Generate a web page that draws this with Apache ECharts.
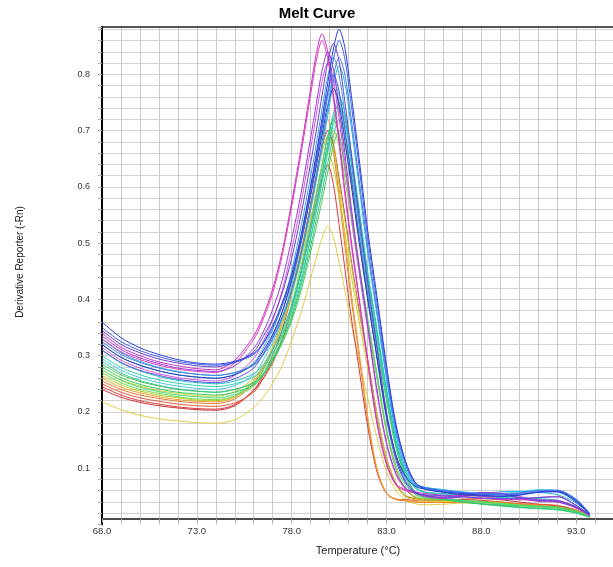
<!DOCTYPE html>
<html>
<head>
<meta charset="utf-8">
<script src="https://cdn.jsdelivr.net/npm/echarts@6/dist/echarts.min.js"></script>
<style>
html,body{margin:0;padding:0;background:#fff;}
#chart{width:613px;height:567px;}
</style>
</head>
<body>
<div id="chart"></div>
<script>
// Temperatures (°C) shared by all wells
const temps = [68,69,70,71,72,73,74,75,76,76.5,77,77.5,78,78.5,79,79.3,79.6,79.9,80.2,80.5,80.8,81.1,81.5,82,82.5,83,83.5,84,84.5,85,86,87,88,89,90,91,92,93,93.7];

// Derivative reporter values per well
const wellPaleYellow = [.218,.204,.194,.188,.184,.181,.180,.186,.208,.226,.251,.283,.327,.378,.437,.474,.509,.530,.510,.466,.417,.363,.300,.226,.153,.094,.060,.043,.037,.035,.036,.038,.037,.034,.031,.029,.027,.021,.014];
const wellCrimson = [.240,.226,.217,.211,.207,.204,.203,.211,.239,.265,.300,.346,.409,.482,.567,.620,.671,.700,.674,.615,.550,.478,.393,.295,.196,.118,.072,.051,.046,.044,.044,.045,.046,.044,.040,.036,.033,.025,.015];
const wellRed = [.245,.230,.220,.214,.209,.206,.205,.213,.238,.260,.291,.331,.386,.450,.524,.570,.614,.640,.604,.533,.456,.378,.289,.176,.093,.055,.045,.044,.043,.042,.043,.044,.043,.040,.036,.033,.031,.024,.015];
const wellRedOrange = [.250,.235,.225,.219,.214,.211,.210,.216,.235,.259,.287,.327,.382,.452,.532,.584,.638,.690,.720,.693,.633,.565,.471,.364,.263,.166,.098,.063,.048,.045,.043,.042,.041,.039,.037,.036,.034,.026,.016];
const wellDarkOrange = [.255,.240,.230,.224,.219,.216,.215,.223,.251,.276,.310,.354,.416,.488,.570,.622,.671,.700,.661,.582,.497,.411,.313,.188,.096,.055,.044,.042,.040,.039,.039,.040,.041,.040,.037,.034,.031,.024,.015];
const wellOrange = [.260,.244,.234,.227,.222,.219,.218,.226,.255,.281,.316,.362,.426,.500,.586,.639,.690,.720,.680,.599,.511,.423,.322,.194,.099,.056,.045,.043,.041,.040,.040,.041,.040,.038,.035,.033,.031,.024,.015];
const wellYellow = [.275,.257,.246,.238,.233,.229,.228,.236,.260,.283,.313,.353,.408,.471,.545,.591,.635,.660,.635,.580,.519,.451,.371,.279,.186,.113,.070,.049,.044,.042,.041,.041,.039,.036,.034,.032,.030,.023,.015];
const wellYellowGreen = [.265,.248,.237,.230,.225,.221,.220,.228,.255,.279,.312,.355,.415,.484,.564,.614,.662,.690,.664,.607,.542,.472,.388,.292,.196,.119,.074,.052,.047,.044,.043,.042,.040,.037,.034,.032,.030,.024,.015];
const wellLime = [.270,.252,.240,.233,.227,.223,.222,.228,.246,.268,.295,.332,.384,.449,.524,.572,.623,.672,.700,.674,.616,.551,.460,.356,.258,.164,.099,.064,.050,.046,.044,.043,.041,.038,.035,.033,.031,.024,.015];
const wellGreen2 = [.285,.266,.254,.246,.240,.237,.235,.240,.252,.267,.291,.322,.362,.416,.484,.529,.576,.626,.673,.700,.674,.616,.528,.415,.318,.220,.136,.084,.054,.048,.044,.040,.037,.035,.033,.032,.031,.023,.014];
const wellSpringGreen = [.275,.256,.244,.236,.230,.227,.225,.231,.249,.273,.300,.339,.392,.460,.537,.588,.640,.691,.720,.693,.634,.567,.474,.368,.268,.171,.105,.070,.055,.051,.047,.043,.040,.037,.034,.031,.029,.022,.014];
const wellGreen = [.280,.261,.249,.241,.235,.232,.230,.235,.248,.265,.291,.327,.371,.432,.508,.558,.611,.666,.719,.750,.722,.660,.566,.444,.340,.236,.145,.090,.057,.049,.045,.040,.036,.033,.030,.028,.026,.020,.013];
const wellSeaGreen = [.290,.269,.256,.247,.241,.237,.235,.240,.252,.268,.293,.326,.367,.424,.495,.542,.591,.642,.691,.720,.693,.634,.544,.427,.328,.228,.141,.088,.058,.050,.046,.041,.037,.034,.031,.029,.027,.021,.013];
const wellTurquoise = [.300,.279,.266,.257,.251,.247,.245,.250,.262,.278,.304,.337,.379,.438,.510,.558,.608,.661,.711,.740,.713,.651,.559,.440,.338,.235,.147,.092,.065,.057,.054,.053,.052,.050,.048,.045,.041,.030,.016];
const wellTeal = [.310,.287,.273,.263,.256,.252,.250,.255,.268,.284,.310,.345,.388,.448,.523,.572,.624,.678,.730,.760,.732,.669,.575,.452,.347,.242,.151,.095,.067,.058,.055,.052,.050,.048,.047,.046,.043,.032,.016];
const wellAqua = [.295,.274,.261,.252,.246,.242,.240,.247,.266,.292,.323,.365,.425,.501,.587,.643,.701,.758,.790,.761,.696,.624,.523,.407,.299,.194,.122,.084,.070,.065,.060,.056,.054,.055,.058,.062,.060,.043,.019];
const wellSky = [.320,.297,.283,.273,.266,.262,.260,.267,.287,.314,.346,.389,.451,.530,.619,.677,.738,.796,.830,.799,.731,.654,.547,.425,.310,.199,.122,.082,.070,.066,.059,.055,.053,.053,.056,.060,.058,.041,.019];
const wellCyan = [.330,.305,.290,.279,.272,.267,.265,.270,.283,.301,.329,.366,.413,.478,.558,.612,.668,.727,.783,.815,.785,.717,.615,.484,.371,.258,.160,.100,.070,.066,.062,.058,.056,.058,.059,.057,.053,.038,.018];
const wellMagenta2 = [.315,.292,.278,.268,.261,.257,.255,.265,.295,.325,.364,.416,.488,.572,.668,.729,.787,.820,.790,.721,.645,.561,.462,.348,.233,.142,.088,.063,.056,.050,.046,.049,.055,.056,.050,.044,.043,.031,.017];
const wellPink = [.330,.307,.293,.283,.276,.272,.270,.287,.329,.365,.412,.478,.565,.660,.764,.825,.860,.828,.756,.676,.587,.507,.411,.291,.178,.106,.070,.060,.056,.052,.050,.052,.050,.046,.045,.048,.050,.034,.017];
const wellMagenta = [.340,.315,.300,.289,.282,.277,.275,.292,.335,.371,.419,.485,.573,.670,.775,.837,.872,.840,.766,.685,.596,.515,.417,.295,.182,.109,.072,.062,.058,.055,.052,.050,.047,.045,.044,.043,.040,.030,.016];
const wellViolet = [.335,.311,.296,.286,.278,.274,.272,.282,.313,.342,.382,.434,.507,.590,.687,.748,.806,.840,.809,.739,.661,.575,.473,.356,.239,.146,.091,.065,.057,.051,.048,.052,.057,.054,.047,.041,.040,.029,.016];
const wellBlueViolet = [.310,.288,.274,.265,.258,.254,.252,.259,.278,.304,.335,.377,.436,.512,.597,.653,.712,.768,.800,.770,.704,.629,.525,.407,.295,.188,.114,.074,.056,.053,.051,.049,.047,.046,.046,.048,.049,.034,.017];
const wellPurple = [.345,.320,.305,.294,.287,.282,.280,.288,.307,.334,.366,.411,.473,.552,.642,.701,.762,.821,.855,.823,.752,.672,.561,.434,.314,.199,.120,.077,.058,.052,.047,.050,.056,.055,.048,.043,.042,.031,.017];
const wellDarkBlue = [.320,.297,.283,.273,.266,.262,.260,.266,.285,.309,.338,.378,.434,.504,.585,.637,.692,.745,.775,.747,.683,.613,.514,.401,.296,.193,.123,.086,.068,.063,.057,.053,.051,.050,.053,.058,.059,.042,.019];
const wellMediumBlue = [.325,.302,.288,.278,.271,.267,.265,.270,.284,.302,.331,.369,.417,.483,.566,.621,.679,.739,.797,.830,.800,.731,.628,.495,.380,.266,.167,.106,.072,.064,.060,.057,.055,.054,.056,.060,.061,.045,.020];
const wellRoyalBlue = [.350,.325,.309,.298,.290,.285,.283,.288,.302,.321,.350,.389,.438,.506,.591,.647,.705,.767,.826,.860,.828,.757,.651,.512,.394,.275,.173,.110,.074,.066,.060,.056,.054,.052,.054,.058,.060,.044,.020];
const wellBlue = [.360,.332,.314,.302,.293,.287,.285,.290,.304,.323,.354,.394,.444,.515,.602,.660,.721,.784,.845,.880,.848,.775,.666,.525,.404,.283,.178,.113,.076,.063,.058,.055,.052,.050,.052,.057,.058,.040,.018];

const wells = [wellPaleYellow, wellCrimson, wellRed, wellRedOrange, wellDarkOrange, wellOrange, wellYellow, wellYellowGreen, wellLime, wellGreen2, wellSpringGreen, wellGreen, wellSeaGreen, wellTurquoise, wellTeal, wellAqua, wellSky, wellCyan, wellMagenta2, wellPink, wellMagenta, wellViolet, wellBlueViolet, wellPurple, wellDarkBlue, wellMediumBlue, wellRoyalBlue, wellBlue];
const wellColors = ['#e2cc44','#c8303c','#d83838','#e85a3a','#e67a2a','#f0a030','#d8c828','#b2d030','#7ad840','#52c852','#40e080','#30d060','#2ec890','#30d2b0','#1fc2c2','#44c8e4','#3aa0ea','#1fb2e2','#d455dc','#e23fb4','#cc33cc','#9b3ad8','#5a50e0','#6b3fd2','#2840b8','#4a7ae8','#3f62ea','#2b3fd8'];

// Axis settings
const xMin = 68, xMax = 94.94, xStep = 1, xLabelEvery = 5;
const yMin = 0, yMax = 0.884, yStep = 0.02;

const chart = echarts.init(document.getElementById('chart'), null, {renderer: 'canvas'});

const series = wells.map((vals, i) => ({
  type: 'line',
  data: temps.map((t, j) => [t, vals[j]]),
  showSymbol: false,
  smooth: 0.3,
  lineStyle: {width: 1, color: wellColors[i]},
  itemStyle: {color: wellColors[i]},
  silent: true,
  z: 3
}));

chart.setOption({
  animation: false,
  backgroundColor: '#ffffff',
  title: {
    text: 'Melt Curve',
    left: 312, top: 1, textAlign: 'center',
    textStyle: {fontFamily: 'Liberation Sans, Arial, sans-serif', fontWeight: 'bold', fontSize: 15, color: '#000'}
  },
  grid: {left: 102, top: 27, right: -2, bottom: 42.5, containLabel: false},
  xAxis: [{
    type: 'value', min: xMin, max: xMax, interval: xStep,
    position: 'bottom', offset: -6,
    axisLine: {show: true, onZero: false, lineStyle: {color: '#111', width: 1.5}},
    axisTick: {show: true, length: 4, lineStyle: {color: '#aaa'}},
    axisLabel: {
      interval: 0, margin: 8, fontSize: 9.5, color: '#333', fontFamily: 'Liberation Sans, Arial, sans-serif',
      showMaxLabel: false,
      formatter: v => {
        const d = v - xMin;
        const r = Math.round(d);
        return (Math.abs(d - r) < 1e-6 && r % xLabelEvery === 0) ? v.toFixed(1) : '';
      }
    },
    splitLine: {show: true, lineStyle: {color: '#cacaca', width: 1}}
  }, {
    type: 'value', min: xMin, max: xMax, position: 'top',
    axisLine: {show: true, onZero: false, lineStyle: {color: '#222', width: 1.5}},
    axisTick: {show: false}, axisLabel: {show: false}, splitLine: {show: false}
  }],
  yAxis: {
    type: 'value', min: yMin, max: yMax, interval: yStep,
    axisLine: {show: true, onZero: false, lineStyle: {color: '#000', width: 2}},
    axisTick: {show: true, length: 4, lineStyle: {color: '#aaa'}},
    axisLabel: {
      margin: 12, fontSize: 9, color: '#333', fontFamily: 'Liberation Sans, Arial, sans-serif',
      formatter: v => {
        const k = Math.round(v * 100);
        return (k > 0 && k % 10 === 0 && Math.abs(v * 100 - k) < 1e-6) ? (k / 100).toFixed(1) : '';
      }
    },
    splitLine: {show: true, showMinLine: false, lineStyle: {color: '#d2d2d2', width: 1}}
  },
  graphic: [
    {type: 'text', x: 20, y: 262, rotation: Math.PI / 2,
     style: {text: 'Derivative Reporter (-Rn)', fontSize: 10, fontFamily: 'Liberation Sans, Arial, sans-serif', fill: '#222', align: 'center', verticalAlign: 'middle'}},
    {type: 'text', x: 358, y: 551,
     style: {text: 'Temperature (°C)', fontSize: 11, fontFamily: 'Liberation Sans, Arial, sans-serif', fill: '#222', align: 'center', verticalAlign: 'middle'}}
  ],
  series: series
});
</script>
</body>
</html>
